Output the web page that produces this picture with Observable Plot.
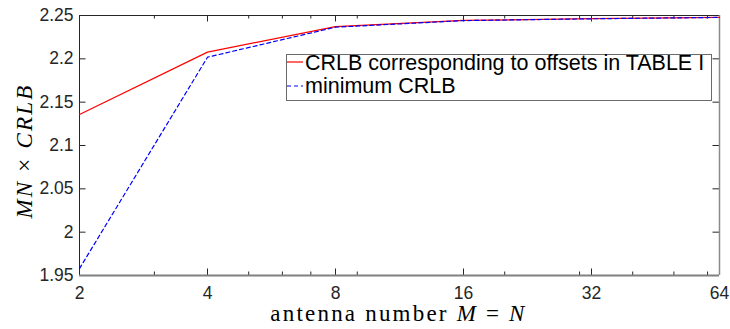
<!DOCTYPE html>
<html><head><meta charset="utf-8">
<script src="https://cdn.jsdelivr.net/npm/d3@7"></script>
<script src="https://cdn.jsdelivr.net/npm/@observablehq/plot@0.6"></script>
<style>body{margin:0;background:#fff} svg{display:block}</style>
</head><body><div id="chart"></div>
<script>
const antennas = [2, 4, 8, 16, 32, 64];
const crlbTable = [2.1358, 2.2077, 2.2372, 2.2443, 2.2463, 2.2478];
const crlbMin = [1.9580, 2.2019, 2.2365, 2.2441, 2.2462, 2.2478];
const seriesNames = ["CRLB corresponding to offsets in TABLE I", "minimum CRLB"];
const seriesColors = ["#ff0000", "#0000ff"];
const xTicks = [2, 4, 8, 16, 32, 64];
const xMinorTicks = [3, 5, 6, 7, 9, 20, 30, 40, 50, 60];
const yTicks = [1.95, 2, 2.05, 2.1, 2.15, 2.2, 2.25];
const yTickLabels = ["1.95", "2", "2.05", "2.1", "2.15", "2.2", "2.25"];

const W = 730, H = 329, mL = 79, mR = 11, mT = 15, mB = 54;
const pw = W - mL - mR, ph = H - mT - mB;
const major = 6.5, minor = 3.5;
const axisColor = "#262626";

const rows = antennas.flatMap((a, i) => [
  {x: a, y: crlbTable[i], s: seriesNames[0]},
  {x: a, y: crlbMin[i], s: seriesNames[1]}
]);

const plot = Plot.plot({
  width: W, height: H,
  marginLeft: mL, marginRight: mR, marginTop: mT, marginBottom: mB,
  style: {fontFamily: "'Liberation Sans', Arial, sans-serif", fontSize: "17.5px", color: axisColor, background: "#fff"},
  x: {type: "log", base: 2, domain: [xTicks[0], xTicks[xTicks.length - 1]]},
  y: {domain: [yTicks[0], yTicks[yTicks.length - 1]]},
  marks: [
    Plot.axisX({ticks: xTicks, tickFormat: d => String(d), tickSize: 0, tickPadding: 11, label: null, fontSize: 17.5}),
    Plot.axisY({ticks: yTicks, tickFormat: d => yTickLabels[yTicks.indexOf(d)], tickSize: 0, tickPadding: 6, label: null, fontSize: 17.5}),
    Plot.tickX(xTicks, {x: d => d, insetTop: ph - major, stroke: axisColor}),
    Plot.tickX(xTicks, {x: d => d, insetBottom: ph - major, stroke: axisColor}),
    Plot.tickX(xMinorTicks, {x: d => d, insetTop: ph - minor, stroke: axisColor}),
    Plot.tickX(xMinorTicks, {x: d => d, insetBottom: ph - minor, stroke: axisColor}),
    Plot.tickY(yTicks, {y: d => d, insetRight: pw - major, stroke: axisColor}),
    Plot.tickY(yTicks, {y: d => d, insetLeft: pw - major, stroke: axisColor}),
    Plot.ruleY([yTicks[yTicks.length - 1]], {stroke: axisColor, strokeWidth: 1}),
    Plot.ruleX([xTicks[0]], {stroke: axisColor, strokeWidth: 1}),
    Plot.ruleY([yTicks[0]], {stroke: "#808080", strokeWidth: 2}),
    Plot.ruleX([xTicks[xTicks.length - 1]], {stroke: "#8a8a8a", strokeWidth: 1.5}),
    Plot.line(rows.filter(d => d.s === seriesNames[0]), {x: "x", y: "y", stroke: seriesColors[0], strokeWidth: 1.2}),
    Plot.line(rows.filter(d => d.s === seriesNames[1]), {x: "x", y: "y", stroke: seriesColors[1], strokeWidth: 1.2, strokeDasharray: "4,3"})
  ]
});

document.getElementById("chart").appendChild(plot);
const svg = d3.select(plot);

const xl = svg.append("text")
  .attr("x", 398.5).attr("y", 321)
  .attr("text-anchor", "middle")
  .style("font-family", "'Liberation Serif', 'Times New Roman', serif")
  .style("font-size", "23px").style("letter-spacing", "2.2px")
  .attr("fill", "#000");
xl.append("tspan").text("antenna number ");
xl.append("tspan").style("font-style", "italic").text("M");
xl.append("tspan").text(" = ");
xl.append("tspan").style("font-style", "italic").text("N");

const yl = svg.append("text")
  .attr("transform", "translate(32,151) rotate(-90)")
  .attr("text-anchor", "middle")
  .style("font-family", "'Liberation Serif', 'Times New Roman', serif")
  .style("font-size", "23px").style("letter-spacing", "2.2px")
  .attr("fill", "#000");
yl.append("tspan").style("font-style", "italic").text("MN");
yl.append("tspan").text(" × ");
yl.append("tspan").style("font-style", "italic").text("CRLB");

const lg = svg.append("g");
lg.append("rect").attr("x", 286.5).attr("y", 54.5).attr("width", 425).attr("height", 46)
  .attr("fill", "#fff").attr("stroke", "#6a6a6a").attr("stroke-width", 1);
const legY = [62, 86];
const legBase = [70, 93];
seriesNames.forEach((name, i) => {
  lg.append("line").attr("x1", 287).attr("x2", 303).attr("y1", legY[i]).attr("y2", legY[i])
    .attr("stroke", seriesColors[i]).attr("stroke-width", 1.2)
    .attr("stroke-dasharray", i === 1 ? "4,3" : null);
  lg.append("text").attr("x", 305).attr("y", legBase[i])
    .attr("text-anchor", "start")
    .style("font-family", "'Liberation Sans', Arial, sans-serif").style("font-size", "21.5px")
    .attr("fill", "#000").text(name);
});
</script>
</body></html>
